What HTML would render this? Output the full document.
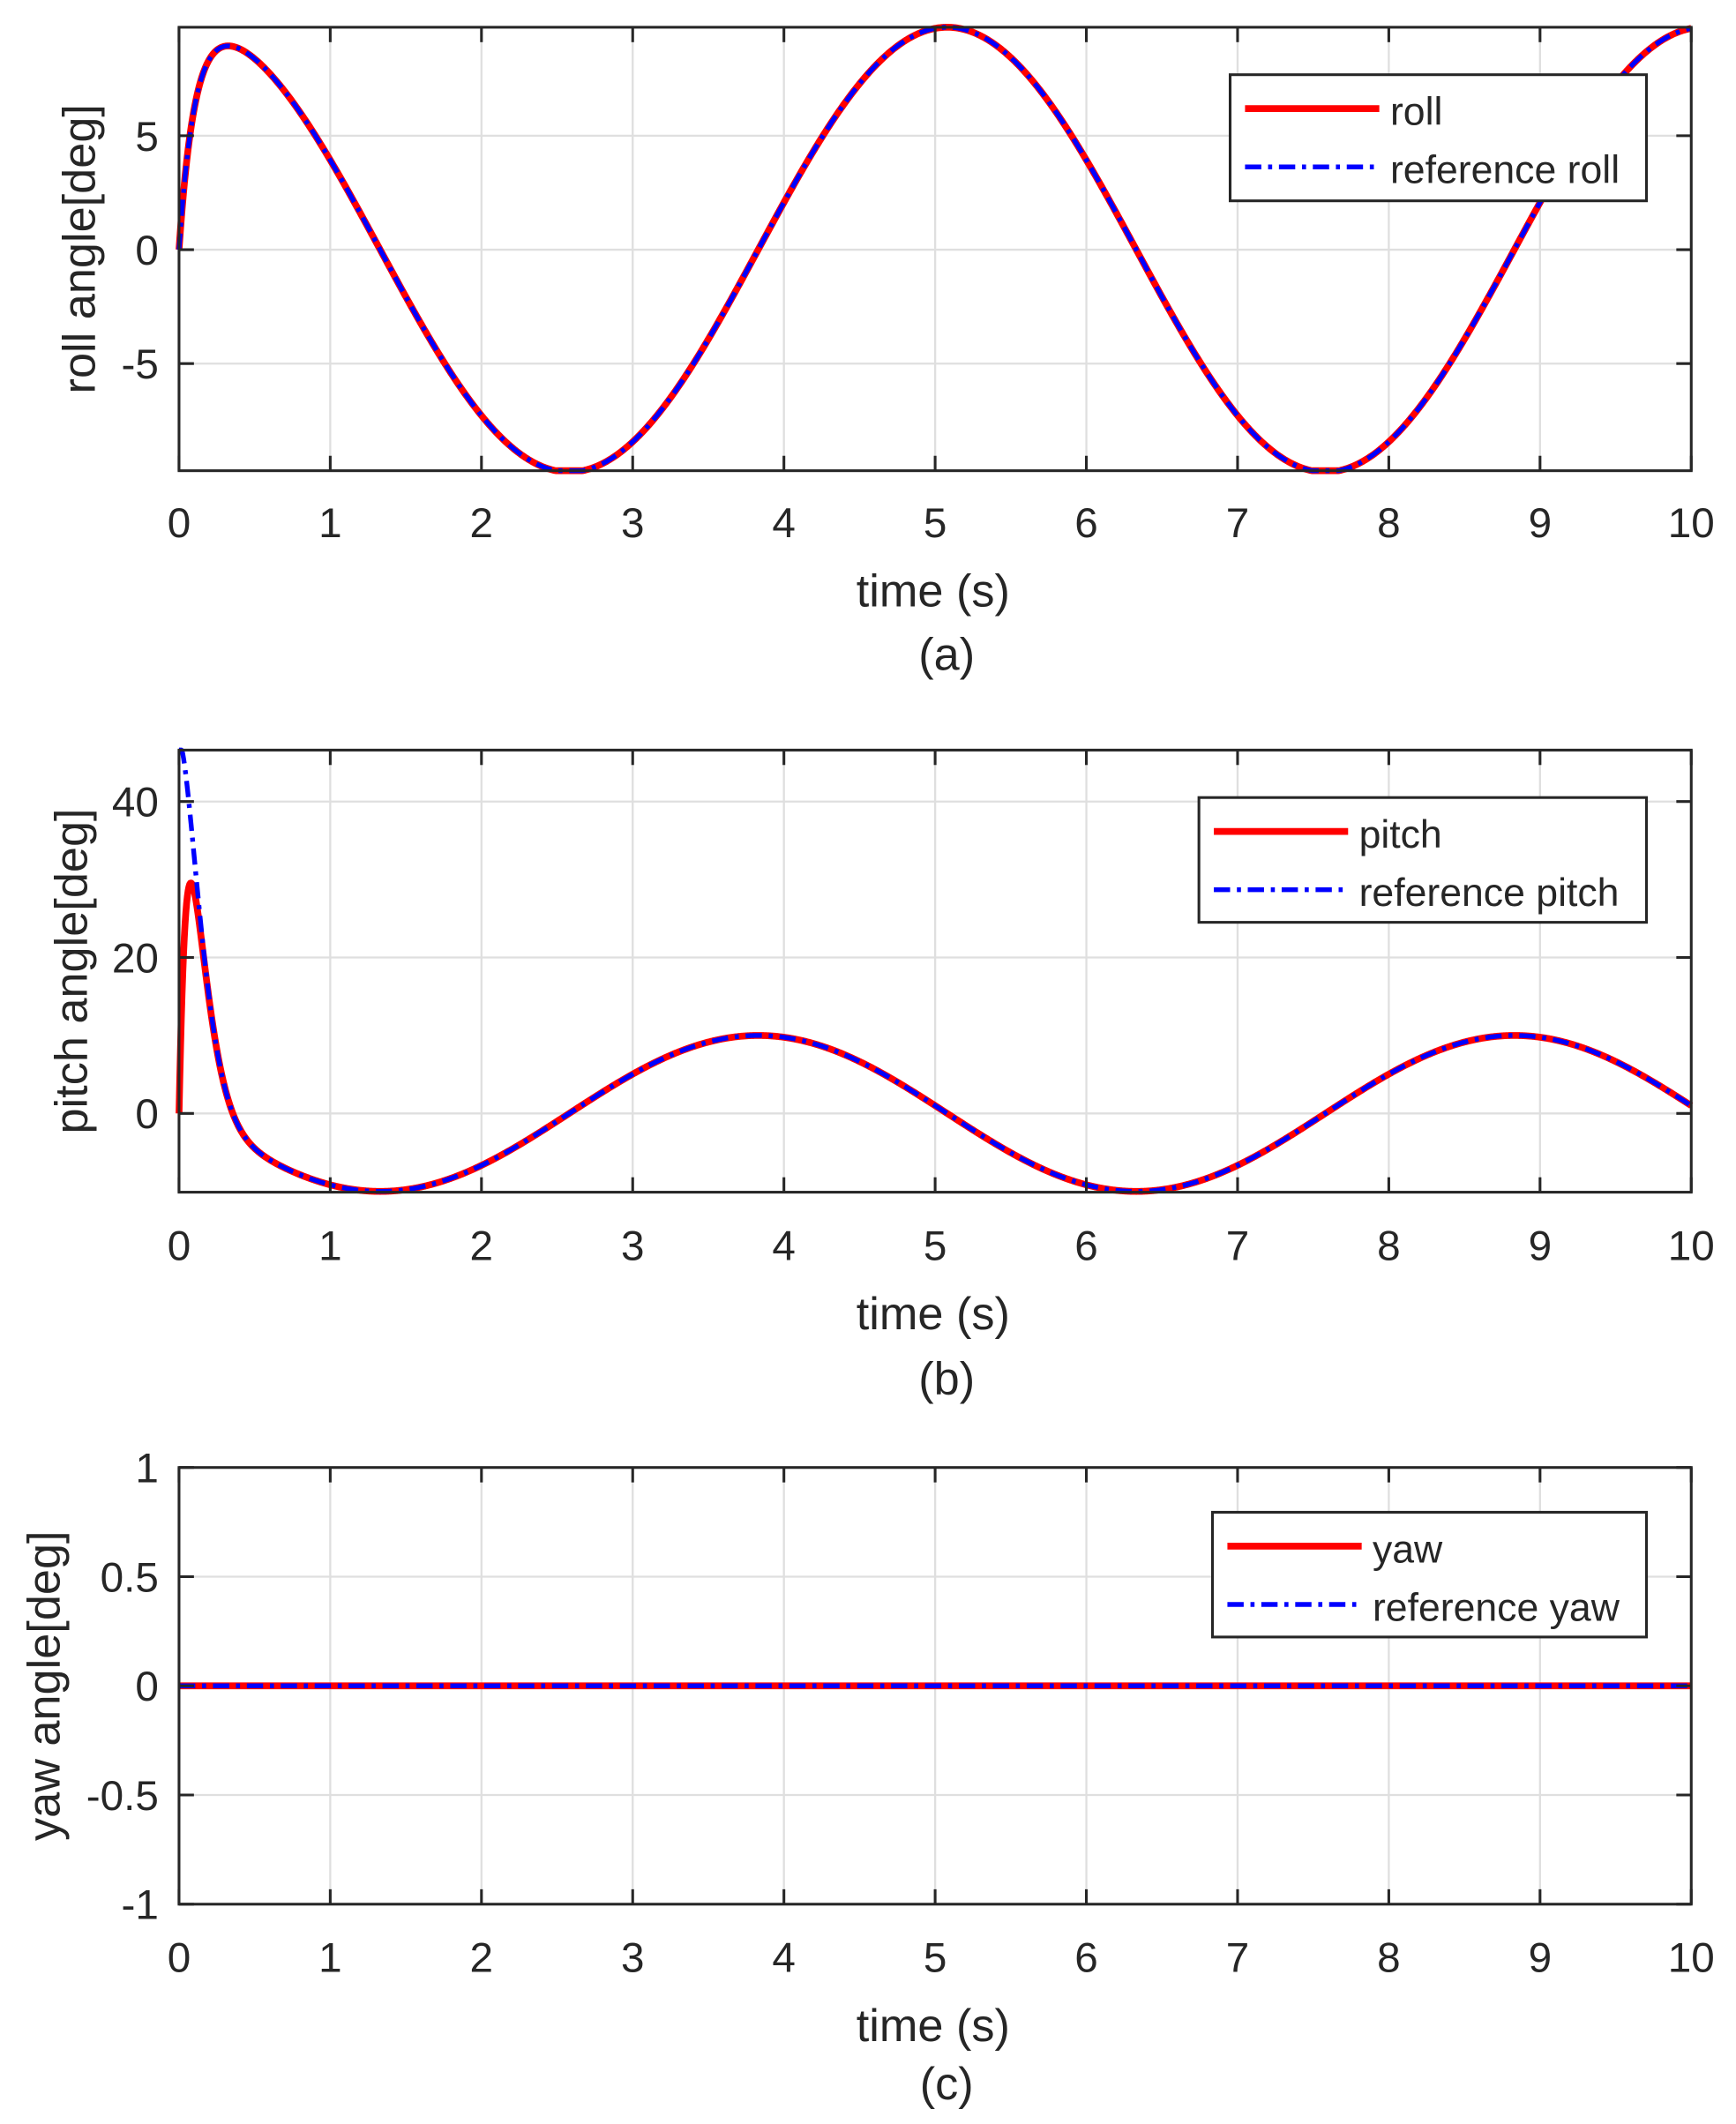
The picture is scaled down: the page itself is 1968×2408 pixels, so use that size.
<!DOCTYPE html>
<html><head><meta charset="utf-8"><style>
html,body{margin:0;padding:0;background:#fff;}
svg{display:block;}
text{font-family:"Liberation Sans",sans-serif;fill:#262626;}
</style></head><body>
<svg id="s" width="1968" height="2408" viewBox="0 0 1280 1566" xmlns="http://www.w3.org/2000/svg">
<rect width="1280" height="1566" fill="#fff"/>
<g id="g"></g>
</svg>
<script>
const NS="http://www.w3.org/2000/svg";
const g=document.getElementById("g");
function el(n,a,t){const e=document.createElementNS(NS,n);for(const k in a)e.setAttribute(k,a[k]);if(t!==undefined)e.textContent=t;g.appendChild(e);return e;}
const X0=132,X1=1247;
function px(t){return X0+(X1-X0)*t/10;}
function panel(o){
  const {top,bot,ymin,ymax,yticks,ylabels,ylab,ylabX,tickY,xlabY,cap,capY,f1,f2,leg}=o;
  const py=v=>bot-(v-ymin)/(ymax-ymin)*(bot-top);
  for(let i=1;i<10;i++)el("line",{x1:px(i),x2:px(i),y1:top,y2:bot,stroke:"#dfdfdf","stroke-width":1.5});
  yticks.forEach(v=>{el("line",{x1:X0,x2:X1,y1:py(v),y2:py(v),stroke:"#dfdfdf","stroke-width":1.5});});
  let d1="",d2="";const N=2000;
  for(let i=0;i<=N;i++){const t=10*i/N;
    let v1=Math.max(ymin,Math.min(ymax,f1(t))),v2=Math.max(ymin,Math.min(ymax,f2(t)));
    d1+=(i?"L":"M")+px(t).toFixed(2)+" "+py(v1).toFixed(2);
    d2+=(i?"L":"M")+px(t).toFixed(2)+" "+py(v2).toFixed(2);}
  el("path",{d:d1,fill:"none",stroke:"#ff0000","stroke-width":5,"stroke-linejoin":"round"});
  el("path",{d:d2,fill:"none",stroke:"#0000ff","stroke-width":3.5,"stroke-dasharray":"12 5 3 5"});
  el("rect",{x:X0,y:top,width:X1-X0,height:bot-top,fill:"none",stroke:"#262626","stroke-width":2});
  for(let i=0;i<=10;i++){el("line",{x1:px(i),x2:px(i),y1:bot,y2:bot-11,stroke:"#262626","stroke-width":2});
    el("line",{x1:px(i),x2:px(i),y1:top,y2:top+11,stroke:"#262626","stroke-width":2});
    el("text",{x:px(i),y:tickY,"font-size":31,"text-anchor":"middle"},String(i));}
  yticks.forEach((v,k)=>{el("line",{x1:X0,x2:X0+11,y1:py(v),y2:py(v),stroke:"#262626","stroke-width":2});
    el("line",{x1:X1,x2:X1-11,y1:py(v),y2:py(v),stroke:"#262626","stroke-width":2});
    el("text",{x:117,y:py(v)+11,"font-size":31,"text-anchor":"end"},ylabels[k]);});
  el("text",{x:688,y:xlabY,"font-size":34,"text-anchor":"middle"},"time (s)");
  el("text",{x:698,y:capY,"font-size":34,"text-anchor":"middle"},cap);
  const cy=(top+bot)/2;
  el("text",{x:ylabX,y:cy,"font-size":34,"text-anchor":"middle",transform:`rotate(-90 ${ylabX} ${cy})`},ylab);
  const L=leg;
  el("rect",{x:L.x,y:L.y,width:1214-L.x,height:L.h,fill:"#fff",stroke:"#262626","stroke-width":2});
  el("line",{x1:L.x+11,x2:L.x+110,y1:L.y+25,y2:L.y+25,stroke:"#ff0000","stroke-width":5});
  el("line",{x1:L.x+11,x2:L.x+110,y1:L.y+68,y2:L.y+68,stroke:"#0000ff","stroke-width":3.5,"stroke-dasharray":"12 5 3 5"});
  el("text",{x:L.x+118,y:L.y+37,"font-size":29},L.a);
  el("text",{x:L.x+118,y:L.y+80,"font-size":29},L.b);
}
const roll=t=>9.76*Math.cos(2*Math.PI*(t-5.08)/5)*(1-Math.exp(-t/0.1));
panel({top:20,bot:347,ymin:-9.7,ymax:9.76,yticks:[-5,0,5],ylabels:["-5","0","5"],ylab:"roll angle[deg]",ylabX:70,
 tickY:396,xlabY:447,cap:"(a)",capY:494,f1:roll,f2:roll,leg:{x:907,y:55,h:93,a:"roll",b:"reference roll"}});
const pref=t=>10*Math.cos(2*Math.PI*(t-3.83)/5)+46*Math.exp(-Math.pow(Math.max(0,t-0.015)/0.18,1.5));
const pr=t=>pref(t)*(1-Math.exp(-t/0.05));
panel({top:553,bot:879,ymin:-10.1,ymax:46.6,yticks:[0,20,40],ylabels:["0","20","40"],ylab:"pitch angle[deg]",ylabX:64,
 tickY:929,xlabY:980,cap:"(b)",capY:1028,f1:pr,f2:pref,leg:{x:884,y:588,h:92,a:"pitch",b:"reference pitch"}});
panel({top:1082,bot:1404,ymin:-1,ymax:1,yticks:[-1,-0.5,0,0.5,1],ylabels:["-1","-0.5","0","0.5","1"],ylab:"yaw angle[deg]",ylabX:44,
 tickY:1454,xlabY:1505,cap:"(c)",capY:1548,f1:t=>0,f2:t=>0,leg:{x:894,y:1115,h:92,a:"yaw",b:"reference yaw"}});
</script>
</body></html>
